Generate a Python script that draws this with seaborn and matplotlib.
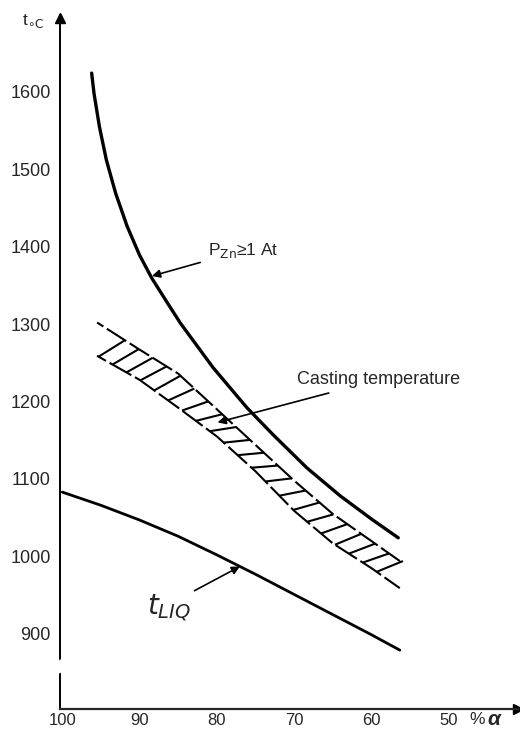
import numpy as np
import pandas as pd
import matplotlib
matplotlib.use("Agg")
import matplotlib.pyplot as plt
import seaborn as sns
from matplotlib.collections import LineCollection

# Values (x = % alpha, y = temperature in C)
pzn_x = [96.2, 95.9, 95.2, 94.3, 93.1, 91.6, 90.0, 88.4, 86.5, 84.7, 80.5, 76.1, 72.7, 68.3, 64.0, 59.8, 56.5]
pzn_t = [1624, 1598, 1555, 1512, 1469, 1426, 1389, 1359, 1329, 1301, 1244, 1192, 1157, 1114, 1078, 1047, 1024]

band_x = [95.5, 90.0, 85.0, 80.0, 75.0, 70.0, 65.0, 60.0, 56.3]
band_upper = [1302, 1267, 1236, 1190, 1144, 1098, 1055, 1020, 994]
band_lower = [1259, 1228, 1192, 1155, 1110, 1059, 1017, 985, 959]

liq_x = [100.0, 95.0, 90.0, 85.0, 80.0, 75.0, 70.0, 65.0, 60.0, 56.3]
liq_t = [1083, 1066, 1047, 1026, 1002, 977, 951, 925, 899, 879]

x_ticks = [100, 90, 80, 70, 60, 50]
y_ticks = [900, 1000, 1100, 1200, 1300, 1400, 1500, 1600]

sns.set_style("white")
plt.rcParams["font.family"] = ["Liberation Sans", "DejaVu Sans"]
plt.rcParams["mathtext.fontset"] = "dejavusans"

df_pzn = pd.DataFrame({"x": pzn_x, "t": pzn_t})
df_liq = pd.DataFrame({"x": liq_x, "t": liq_t})
df_up = pd.DataFrame({"x": band_x, "t": band_upper})
df_low = pd.DataFrame({"x": band_x, "t": band_lower})

fig = plt.figure(figsize=(5.2, 7.29), dpi=100)
ax = fig.add_axes([60 / 520, 20 / 729, 458 / 520, 694 / 729])

sns.lineplot(data=df_pzn, x="x", y="t", color="black", lw=2.4, estimator=None, ax=ax)
sns.lineplot(data=df_liq, x="x", y="t", color="black", lw=2.0, estimator=None, ax=ax)
sns.lineplot(data=df_up, x="x", y="t", color="black", lw=1.5, estimator=None, ax=ax,
             linestyle=(0, (11, 2)))
sns.lineplot(data=df_low, x="x", y="t", color="black", lw=1.5, estimator=None, ax=ax,
             linestyle=(3, (12, 2)))

# hatch strokes across the casting band, from lower edge to upper edge
hx = np.arange(95.3, 58.5, -1.8)
hx_end = hx - 3.4
y0 = np.interp(hx, band_x[::-1], band_lower[::-1])
y1 = np.interp(hx_end, band_x[::-1], band_upper[::-1])
segs = [[(a, b), (c, d)] for a, b, c, d in zip(hx, y0, hx_end, y1)]
ax.add_collection(LineCollection(segs, colors="black", linewidths=1.5))

ax.set_xlim(100.3, 41.0)
ax.set_ylim(803, 1699)
ax.set_xticks(x_ticks)
ax.set_yticks(y_ticks)
ax.set_xlabel("")
ax.set_ylabel("")
ax.tick_params(axis="y", direction="out", length=2.5, width=1, pad=4, labelsize=13)
ax.tick_params(axis="x", direction="in", length=3, width=1, pad=3, labelsize=12)

for s in ["top", "right", "left"]:
    ax.spines[s].set_visible(False)
ax.spines["bottom"].set_linewidth(1.6)

# y axis with a break between 900 and 800
yt = ax.get_yaxis_transform()
ax.plot([0, 0], [866, 1699], color="black", lw=1.4, transform=yt, clip_on=False)
ax.plot([0, 0], [803, 850], color="black", lw=1.4, transform=yt, clip_on=False)
ax.annotate("", xy=(0, 866), xycoords=yt, xytext=(6.5, -3), textcoords="offset points",
            arrowprops=dict(arrowstyle="-", lw=1.2, shrinkA=0, shrinkB=0))
ax.annotate("", xy=(0, 850), xycoords=yt, xytext=(-5, 2.5), textcoords="offset points",
            arrowprops=dict(arrowstyle="-", lw=1.2, shrinkA=0, shrinkB=0))
ax.plot(0, 0.995, marker="^", ms=7, color="black", transform=ax.transAxes, clip_on=False)
ax.plot(1, 0, marker=">", ms=7, color="black", transform=ax.transAxes, clip_on=False)

# axis titles
fig.text(22 / 520, 1 - 25 / 729, r"t$_{\circ\mathrm{C}}$", fontsize=12.5, ha="left", va="baseline")
ax.text(47.3, 789, "%", fontsize=12.5, ha="left", va="center", clip_on=False)
ax.text(44.9, 790, "α", fontsize=15, fontweight="bold", style="italic",
        ha="left", va="center", clip_on=False)

# annotations
ax.annotate(r"P$_{\mathrm{Zn}}$≥1 At", xy=(88.4, 1362), xytext=(81.2, 1395),
            fontsize=12.5, va="center", ha="left",
            arrowprops=dict(arrowstyle="-|>", color="black", lw=1.2, shrinkA=3, shrinkB=0,
                            mutation_scale=12))
ax.annotate("Casting temperature", xy=(79.9, 1173), xytext=(69.6, 1228),
            fontsize=13, va="center", ha="left",
            arrowprops=dict(arrowstyle="-|>", color="black", lw=1.2, shrinkA=4, shrinkB=0,
                            mutation_scale=12))
ax.annotate(r"$t_{LIQ}$", xy=(77.0, 987), xytext=(89.0, 925),
            fontsize=20, va="baseline", ha="left",
            arrowprops=dict(arrowstyle="-|>", color="black", lw=1.2, shrinkA=0, shrinkB=0,
                            mutation_scale=12, relpos=(0.85, 0.9)))

fig.savefig("out.png", dpi=100)
